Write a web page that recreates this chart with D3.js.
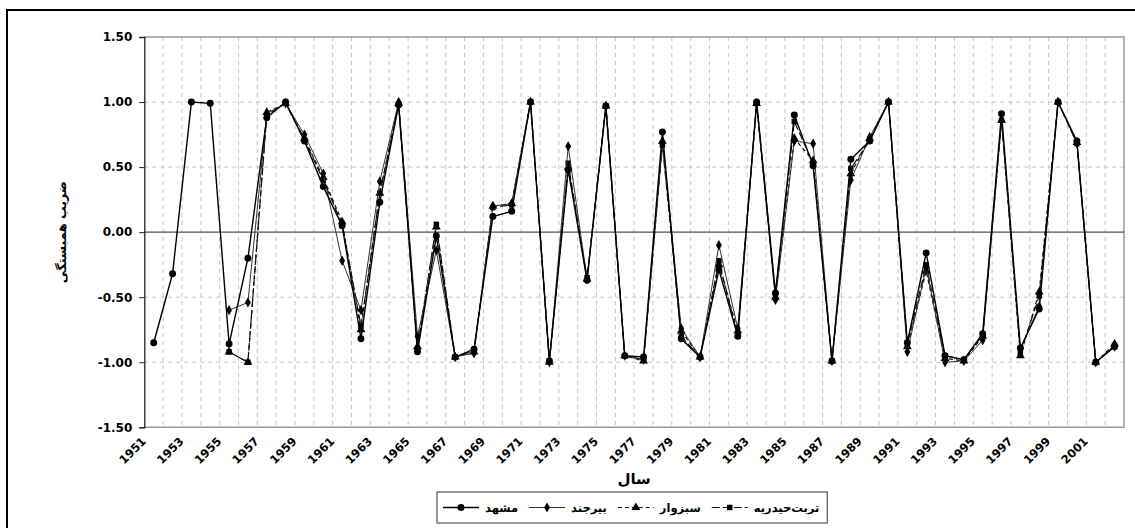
<!DOCTYPE html>
<html><head><meta charset="utf-8">
<script src="https://cdn.jsdelivr.net/npm/d3@7/dist/d3.min.js"></script>
<style>html,body{margin:0;padding:0;background:#fff;}svg{display:block;}</style>
</head><body>
<svg id="c" width="1135" height="528"></svg>
<script>
const years = d3.range(1951, 2003);
const yTicks = [-1.5, -1.0, -0.5, 0.0, 0.5, 1.0, 1.5];
const xLabelYears = d3.range(1951, 2002, 2);
const seriesNames = ["مشهد", "بیرجند", "سبزوار", "تربت‌حیدریه"];
const mashhad = [-0.85,-0.32,1.00,0.99,-0.86,-0.20,0.88,1.00,0.70,0.35,0.05,-0.82,0.23,0.98,-0.92,-0.03,-0.96,-0.90,0.12,0.16,1.00,-0.99,0.48,-0.37,0.97,-0.95,-0.96,0.77,-0.82,-0.96,-0.29,-0.80,1.00,-0.47,0.90,0.51,-0.99,0.56,0.70,1.00,-0.85,-0.16,-0.95,-0.98,-0.78,0.91,-0.89,-0.59,1.00,0.70,-1.00,-0.88];
const birjand = [null,null,null,null,-0.60,-0.54,0.91,0.99,0.75,0.45,-0.22,-0.60,0.39,1.00,-0.80,-0.14,-0.96,-0.93,0.20,0.22,1.00,-1.00,0.66,-0.36,0.97,-0.95,-0.98,0.68,-0.74,-0.96,-0.10,-0.74,0.99,-0.52,0.70,0.68,-0.99,0.40,0.73,1.00,-0.92,-0.27,-1.00,-0.99,-0.83,0.86,-0.90,-0.57,1.00,0.69,-1.00,-0.88];
const sabzevar = [null,null,null,null,-0.92,-1.00,0.92,0.99,0.72,0.42,0.08,-0.75,0.30,0.99,-0.88,0.04,-0.96,-0.92,0.20,0.22,1.00,-1.00,0.50,-0.36,0.97,-0.95,-0.99,0.70,-0.76,-0.96,-0.25,-0.76,0.99,-0.50,0.72,0.55,-0.99,0.45,0.72,1.00,-0.88,-0.30,-0.97,-0.99,-0.80,0.86,-0.95,-0.46,1.00,0.69,-1.00,-0.86];
const torbat = [null,null,null,null,-0.92,-1.00,0.90,0.99,0.71,0.40,0.06,-0.72,0.30,0.98,-0.90,0.06,-0.96,-0.91,0.19,0.21,1.00,-0.99,0.53,-0.35,0.97,-0.95,-0.98,0.67,-0.80,-0.96,-0.22,-0.80,0.99,-0.47,0.85,0.53,-0.99,0.49,0.70,1.00,-0.86,-0.25,-0.95,-0.98,-0.79,0.86,-0.93,-0.49,1.00,0.68,-1.00,-0.87];

const svg = d3.select("#c");
const F = "'DejaVu Sans', sans-serif";
const L = 144.3, R = 1124, T = 37, B = 427.3;

// outer frame
svg.append("rect").attr("x",7).attr("y",10).attr("width",1300).attr("height",700)
  .attr("fill","none").attr("stroke","#000").attr("stroke-width",2);

const x = d3.scaleBand().domain(years).range([L, R]).paddingInner(0).paddingOuter(0);
const cx = d => x(d) + x.bandwidth()/2;
const y = d3.scaleLinear().domain([-1.5, 1.5]).range([B, T]);

// vertical gridlines at category boundaries
svg.append("g").selectAll("line").data(years.slice(1)).join("line")
  .attr("x1", d => x(d)).attr("x2", d => x(d)).attr("y1", T).attr("y2", B)
  .attr("stroke","#c4c4c4").attr("stroke-width",1).attr("stroke-dasharray","4,4");
// horizontal gridlines
svg.append("g").selectAll("line").data(yTicks.filter(v => v !== 0 && v !== -1.5 && v !== 1.5)).join("line")
  .attr("x1", L).attr("x2", R).attr("y1", d => y(d)).attr("y2", d => y(d))
  .attr("stroke","#c4c4c4").attr("stroke-width",1).attr("stroke-dasharray","4,4");
// plot border top/right/bottom
svg.append("path").attr("d",`M${L},${T}H${R}V${B}H${L}`).attr("fill","none")
  .attr("stroke","#9a9a9a").attr("stroke-width",1.5);
// zero line
svg.append("line").attr("x1",L).attr("x2",R).attr("y1",y(0)).attr("y2",y(0))
  .attr("stroke","#555").attr("stroke-width",1.2);

// y axis
const yAxis = d3.axisLeft(y).tickValues(yTicks).tickFormat(v => v.toFixed(2)).tickSize(5).tickPadding(7);
const ga = svg.append("g").attr("transform",`translate(${L},0)`).call(yAxis);
ga.select(".domain").attr("stroke","#222").attr("stroke-width",1.3);
ga.selectAll(".tick line").attr("stroke","#222");
ga.selectAll("text").attr("font-family",F).attr("font-weight","bold").attr("font-size",12).attr("fill","#000");

// x labels
svg.append("g").selectAll("text").data(xLabelYears).join("text")
  .attr("transform", d => `translate(${cx(d)-7},${442}) rotate(-45)`)
  .attr("text-anchor","end").attr("font-family",F).attr("font-weight","bold").attr("font-size",11.5)
  .attr("fill","#000").text(d => d);

// titles
svg.append("text").attr("x",(L+R)/2).attr("y",484).attr("text-anchor","middle")
  .attr("font-family",F).attr("font-weight","bold").attr("font-size",15).attr("fill","#000").text("سال");
svg.append("text").attr("transform",`translate(66,${y(0)}) rotate(-90)`).attr("text-anchor","middle")
  .attr("font-family",F).attr("font-weight","bold").attr("font-size",12.5).attr("fill","#000").text("ضریب همبستگی");

// series
const series = [
  {name: seriesNames[0], values: mashhad, dash: null, stroke:"#000", w:1.4, sym: d3.symbolCircle, size: 38},
  {name: seriesNames[1], values: birjand, dash: null, stroke:"#333", w:1, sym: d3.symbolDiamond, size: 30},
  {name: seriesNames[2], values: sabzevar, dash: "4,3", stroke:"#111", w:1.2, sym: d3.symbolTriangle, size: 34},
  {name: seriesNames[3], values: torbat, dash: "8,3", stroke:"#111", w:1.2, sym: d3.symbolSquare, size: 30}
];
const line = d3.line().defined(d => d.v != null).x(d => cx(d.yr)).y(d => y(d.v));
const drawOrder = [3,2,1,0];
drawOrder.forEach(i => {
  const s = series[i];
  const pts = years.map((yr, k) => ({yr, v: s.values[k]}));
  svg.append("path").datum(pts).attr("d", line).attr("fill","none")
    .attr("stroke", s.stroke).attr("stroke-width", s.w).attr("stroke-dasharray", s.dash);
  svg.append("g").selectAll("path").data(pts.filter(d => d.v != null)).join("path")
    .attr("transform", d => `translate(${cx(d.yr)},${y(d.v)})`)
    .attr("d", d3.symbol().type(s.sym).size(s.size)).attr("fill","#000");
});

// legend
const lg = svg.append("g");
const box = lg.append("rect").attr("y",492).attr("height",31).attr("x",437)
  .attr("fill","#fff").attr("stroke","#555").attr("stroke-width",1.2);
let cur = 443;
series.forEach(s => {
  const my = 507.5;
  lg.append("line").attr("x1",cur).attr("x2",cur+36).attr("y1",my).attr("y2",my)
    .attr("stroke",s.stroke).attr("stroke-width",s.w).attr("stroke-dasharray",s.dash);
  lg.append("path").attr("transform",`translate(${cur+18},${my})`)
    .attr("d", d3.symbol().type(s.sym).size(s.size)).attr("fill","#000");
  const t = lg.append("text").attr("x",cur+42).attr("y",my+4).attr("text-anchor","start")
    .attr("font-family",F).attr("font-weight","bold").attr("font-size",11.5).attr("fill","#000").text(s.name);
  const w = t.node().getComputedTextLength();
  cur = cur + 42 + w + 11;
});
box.attr("width", cur - 437 - 3);
</script>
</body></html>
